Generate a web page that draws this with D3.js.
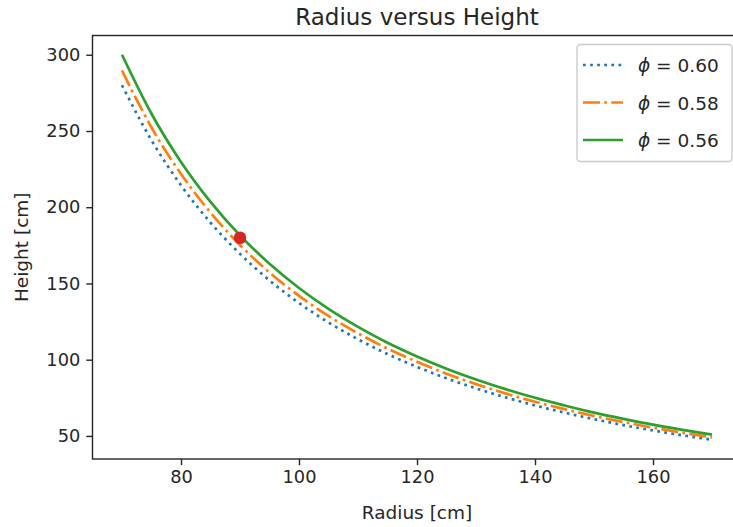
<!DOCTYPE html>
<html>
<head>
<meta charset="utf-8">
<script src="https://cdn.jsdelivr.net/npm/d3@7"></script>
<style>
  body { margin: 0; background: #fff; }
  text { font-family: "DejaVu Sans", sans-serif; fill: #262626; }
</style>
</head>
<body>
<svg id="chart" width="733" height="527"></svg>
<script>
// Values
const radius = [70, 75, 80, 85, 90, 95, 100, 105, 110, 115, 120, 125, 130, 135, 140, 145, 150, 155, 160, 165, 170];
const heightPhi060 = [280.0, 243.9, 214.4, 189.9, 169.4, 152.0, 137.2, 124.4, 113.4, 103.7, 95.3, 87.8, 81.2, 75.3, 70.0, 65.3, 61.0, 57.1, 53.6, 50.4, 47.5];
const heightPhi058 = [289.7, 252.3, 221.8, 196.5, 175.2, 157.2, 141.9, 128.7, 117.3, 107.3, 98.6, 90.8, 84.0, 77.9, 72.4, 67.6, 63.1, 59.1, 55.4, 52.1, 49.1];
const heightPhi056 = [300.0, 261.3, 229.7, 203.5, 181.5, 162.9, 147.0, 133.3, 121.5, 111.1, 102.1, 94.1, 87.0, 80.7, 75.0, 70.0, 65.3, 61.2, 57.4, 54.0, 50.9];
const phiLabels = ['0.60', '0.58', '0.56'];
const markedPoint = { r: 90, h: 180 };
const xTicks = [80, 100, 120, 140, 160];
const yTicks = [50, 100, 150, 200, 250, 300];

const series = [
  { label: phiLabels[0], values: heightPhi060, color: '#1f77b4', dash: '2.7,4.4' },
  { label: phiLabels[1], values: heightPhi058, color: '#ff7f0e', dash: '17,4.3,2.7,4.3' },
  { label: phiLabels[2], values: heightPhi056, color: '#2ca02c', dash: null }
];

const plot = { left: 92.5, right: 741.5, top: 35.5, bottom: 459 };
const svg = d3.select('#chart');

// matplotlib-style 5% padding on the data range
function padded(ext) {
  const d = (ext[1] - ext[0]) * 0.05;
  return [ext[0] - d, ext[1] + d];
}
const allH = heightPhi060.concat(heightPhi058, heightPhi056);
const x = d3.scaleLinear().domain(padded(d3.extent(radius))).range([plot.left, plot.right]);
const y = d3.scaleLinear().domain(padded(d3.extent(allH))).range([plot.bottom, plot.top]);

const line = d3.line()
  .x((d, i) => x(radius[i]))
  .y(d => y(d))
  .curve(d3.curveMonotoneX);

svg.append('g')
  .selectAll('path')
  .data(series)
  .join('path')
  .attr('d', d => line(d.values))
  .attr('fill', 'none')
  .attr('stroke', d => d.color)
  .attr('stroke-width', 2.7)
  .attr('stroke-dasharray', d => d.dash);

svg.append('circle')
  .attr('cx', x(markedPoint.r))
  .attr('cy', y(markedPoint.h))
  .attr('r', 6.3)
  .attr('fill', '#d62728');

// axes
const xAxis = svg.append('g')
  .attr('transform', `translate(0,${plot.bottom})`)
  .call(d3.axisBottom(x).tickValues(xTicks).tickSize(6.2).tickPadding(5));
const yAxis = svg.append('g')
  .attr('transform', `translate(${plot.left},0)`)
  .call(d3.axisLeft(y).tickValues(yTicks).tickSize(6.2).tickPadding(6));

[xAxis, yAxis].forEach(a => {
  a.select('.domain').remove();
  a.selectAll('line').attr('stroke', '#262626').attr('stroke-width', 1.4);
  a.selectAll('text').style('font-size', '17.8px').attr('fill', '#262626');
});

// spines (right one sits just outside the picture)
svg.append('rect')
  .attr('x', plot.left).attr('y', plot.top)
  .attr('width', plot.right - plot.left).attr('height', plot.bottom - plot.top)
  .attr('fill', 'none').attr('stroke', '#262626').attr('stroke-width', 1.4);

svg.append('text')
  .attr('x', (plot.left + plot.right) / 2).attr('y', 25)
  .attr('text-anchor', 'middle').style('font-size', '23px')
  .text('Radius versus Height');

svg.append('text')
  .attr('x', (plot.left + plot.right) / 2).attr('y', 519)
  .attr('text-anchor', 'middle').style('font-size', '18.5px')
  .text('Radius [cm]');

svg.append('text')
  .attr('transform', `translate(28,${(plot.top + plot.bottom) / 2}) rotate(-90)`)
  .attr('text-anchor', 'middle').style('font-size', '18.5px')
  .text('Height [cm]');

// legend
const legend = svg.append('g');
const lg = { x: 577, y: 44.5, w: 155, h: 117, row0: 65, rowStep: 37.5 };
legend.append('rect')
  .attr('x', lg.x).attr('y', lg.y).attr('width', lg.w).attr('height', lg.h)
  .attr('rx', 3.5)
  .attr('fill', '#fff').attr('fill-opacity', 0.8)
  .attr('stroke', '#cccccc').attr('stroke-width', 1.4);

const item = legend.selectAll('g.item')
  .data(series)
  .join('g')
  .attr('class', 'item')
  .attr('transform', (d, i) => `translate(0,${lg.row0 + i * lg.rowStep})`);

item.append('line')
  .attr('x1', 583).attr('x2', 623)
  .attr('stroke', d => d.color)
  .attr('stroke-width', 2.7)
  .attr('stroke-dasharray', d => d.dash);

const lbl = item.append('text')
  .attr('x', 638).attr('y', 7)
  .style('font-size', '18.5px');
lbl.append('tspan').style('font-style', 'italic').text('\u03d5');
lbl.append('tspan').text(d => ' = ' + d.label);
</script>
</body>
</html>
